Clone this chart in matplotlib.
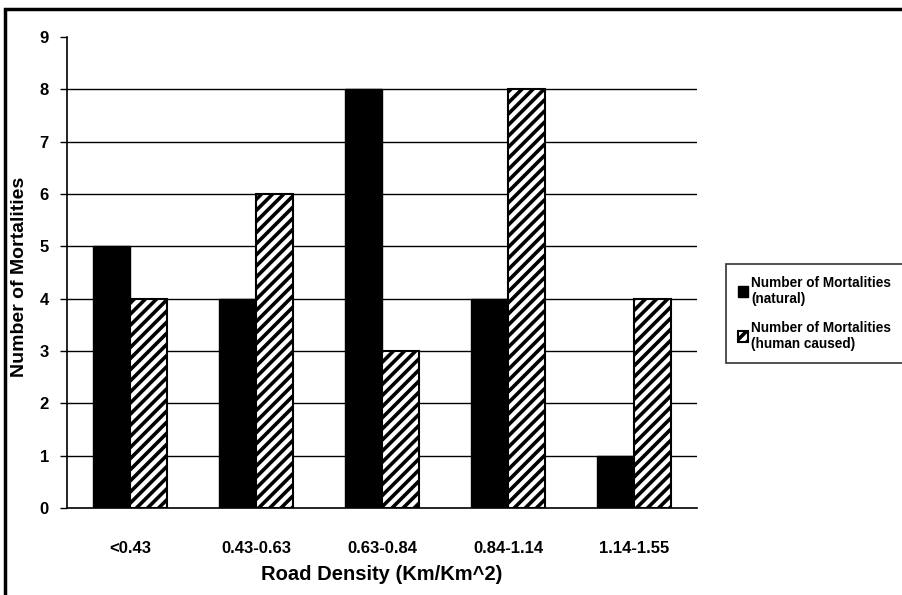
import numpy as np
import matplotlib
matplotlib.use("Agg")
from matplotlib import pyplot as plt
from matplotlib.patches import Rectangle

# data
categories = ["<0.43", "0.43-0.63", "0.63-0.84", "0.84-1.14", "1.14-1.55"]
natural = [5, 4, 8, 4, 1]
humanCaused = [4, 6, 3, 8, 4]
seriesNames = ["Number of Mortalities\n(natural)", "Number of Mortalities\n(human caused)"]
yTicks = list(range(0, 10))

plt.rcParams['font.family'] = ['Liberation Sans', 'DejaVu Sans']
plt.rcParams['font.weight'] = 'bold'
plt.rcParams['hatch.linewidth'] = 2.6
plt.rcParams['hatch.color'] = 'black'

fig = plt.figure(figsize=(9.02, 5.95), dpi=100)
ax = fig.add_axes([0.0743, 0.1462, 0.6984, 0.7916])

x = np.arange(len(categories))
width = 0.29

ax.bar(x - width / 2, natural, width, color='black', edgecolor='black', linewidth=1, label=seriesNames[0], zorder=3)
ax.bar(x + width / 2, humanCaused, width, color='white', edgecolor='black', hatch='///', linewidth=1.5, label=seriesNames[1], zorder=3)

ax.set_xlim(-0.5, len(categories) - 0.5)
ax.set_ylim(0, 9)
ax.set_yticks(yTicks)
ax.set_yticklabels([str(t) for t in yTicks], fontsize=12, fontweight='bold')
ax.set_xticks(x)
ax.set_xticklabels(categories, fontsize=12, fontweight='bold')
ax.tick_params(axis='x', length=0, pad=24)
ax.tick_params(axis='y', length=5, width=1, direction='out', pad=8)

ax.yaxis.grid(True, color='black', linewidth=1)
ax.set_axisbelow(True)
ax.get_ygridlines()[-1].set_visible(False)
ax.get_ygridlines()[0].set_visible(False)

for side in ['top', 'right']:
    ax.spines[side].set_visible(False)
ax.spines['left'].set_linewidth(1.2)
ax.spines['bottom'].set_linewidth(1.2)

ax.set_xlabel("Road Density (Km/Km^2)", fontsize=14.5, fontweight='bold', labelpad=6)
ax.set_ylabel("Number of Mortalities", fontsize=14, fontweight='bold', va='center')
ax.yaxis.set_label_coords(-0.075, 0.49)

leg = fig.legend(loc='upper left', bbox_to_anchor=(726 / 902, 1 - 264 / 595), fontsize=9.8,
                 frameon=True, fancybox=False, edgecolor='black', handlelength=0.8, handleheight=0.8,
                 handletextpad=0.2, labelspacing=1.1, borderpad=0.85, borderaxespad=0)
leg.get_frame().set_linewidth(1.2)
for txt in leg.get_texts():
    txt.set_fontweight('bold')

# outer frame
fig.patches.append(Rectangle((5 / 902, -0.05), 1.2, 1 - 9 / 595 + 0.05, transform=fig.transFigure,
                             fill=False, edgecolor='black', linewidth=2.5))

fig.savefig("out.png", dpi=100)
